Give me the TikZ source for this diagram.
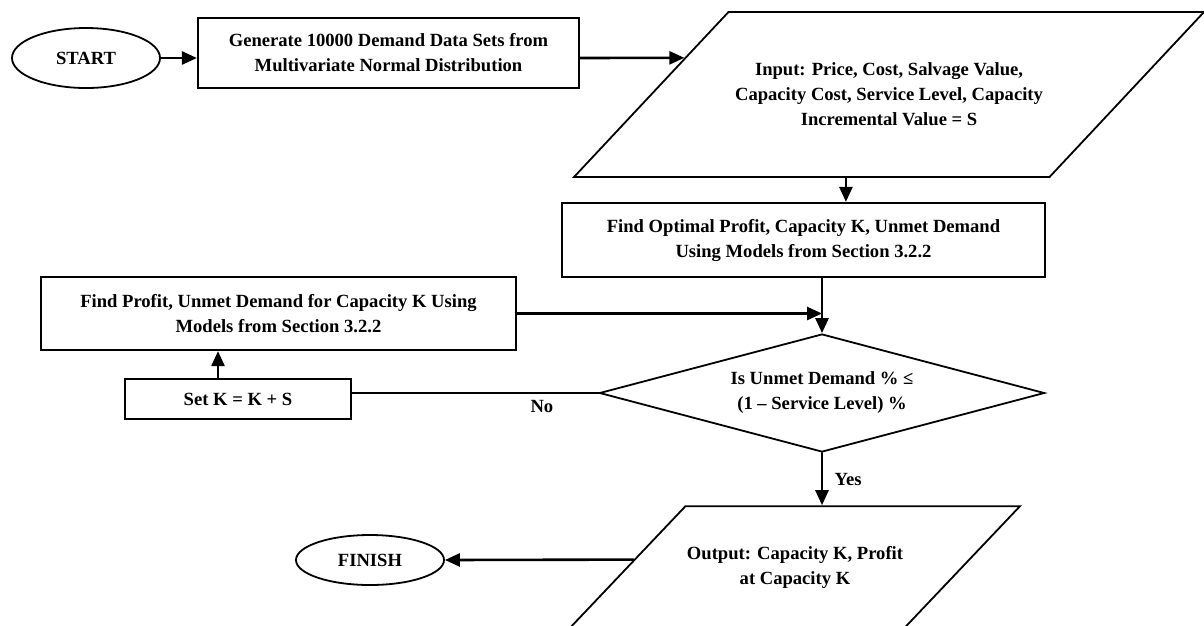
\documentclass[tikz,border=0pt]{standalone}
\usepackage{fontspec}
\setmainfont{Liberation Serif}
\usetikzlibrary{shapes.geometric,arrows.meta,calc}

\begin{document}
\begin{tikzpicture}[
	x=1pt,y=-1pt,
	>={Triangle[length=15pt,width=13pt]},
	line cap=round,
	every node/.style={font=\fontsize{18.6}{25}\selectfont\bfseries, align=center},
	process/.style={draw, rectangle, line width=2.2pt, inner sep=0pt},
	terminal/.style={draw, ellipse, line width=1.8pt, inner sep=0pt},
	io/.style={draw, trapezium, trapezium left angle=46.5, trapezium right angle=133.5,
		trapezium stretches body, line width=1.8pt, inner xsep=0pt},
	decision/.style={draw, diamond, aspect=3.77, line width=1.8pt, inner sep=0pt}
	]
	\useasboundingbox (0,0) rectangle (1204,625);
	\clip (0,0) rectangle (1204,625);
	\node[terminal, minimum width=148pt, minimum height=60pt] (start) at (86,58) {START};
	\node[process, minimum width=381pt, minimum height=70pt] (gen) at (388.5,53) {Generate 10000 Demand Data Sets from\\Multivariate Normal Distribution};
	\node[io, inner ysep=49.8pt, minimum width=630pt, minimum height=165pt] (input) at (889,94.5) {Input: Price, Cost, Salvage Value,\\Capacity Cost, Service Level, Capacity\\Incremental Value = S};
	\node[process, minimum width=483pt, minimum height=74pt] (optim) at (803.5,240) {Find Optimal Profit, Capacity K, Unmet Demand\\Using Models from Section 3.2.2};
	\node[decision, minimum width=445pt, minimum height=118pt] (check) at (822,393) {Is Unmet Demand \% \char"2264\\(1 -- Service Level) \%};
	\node[process, minimum width=475pt, minimum height=73pt] (evalk) at (278.5,313.5) {Find Profit, Unmet Demand for Capacity K Using\\Models from Section 3.2.2};
	\node[process, minimum width=226pt, minimum height=40pt] (update) at (238,399) {Set K = K + S};
	\node[io, inner ysep=39.8pt, minimum width=450pt, minimum height=120pt] (output) at (795,567) {Output: Capacity K, Profit\\at Capacity K};
	\node[terminal, minimum width=148pt, minimum height=50pt] (finish) at (370,560) {FINISH};
	\begin{scope}[->, line width=2.6pt]
		\draw (start.east) -- (start.east -| gen.west);
		\draw (gen.east |- start.east) -- ($(input.top left corner)!0.28!(input.bottom left corner)$);
		\draw ([xshift=35pt]input.bottom side) -- ([xshift=35pt]input.bottom side |- optim.north);
		\draw (optim.south -| check.north) -- (check.north);
		\draw (evalk.east) -- (evalk.east -| check.north);
		\draw ([xshift=-20pt]update.north) -- ([xshift=-20pt]update.north |- evalk.south);
		\draw (check.south) -- (check.south |- output.north) node[midway, right=8pt] {Yes};
		\draw ($(output.top left corner)!0.44!(output.bottom left corner)$) -- (finish.east);
	\end{scope}
	\draw[line width=1.4pt] (check.west) -- (check.west -| update.east) node[pos=0.23, below=3pt] {No};
\end{tikzpicture}
\end{document}
